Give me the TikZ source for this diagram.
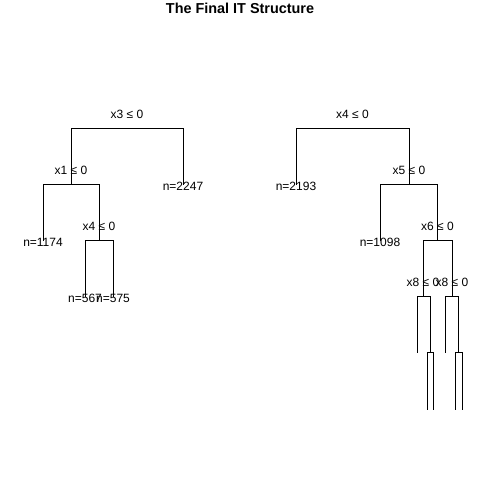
\documentclass[tikz,border=0pt]{standalone}
\usepackage{fontspec}
\setmainfont{Liberation Sans}
\begin{document}
\begin{tikzpicture}[x=1pt,y=-1pt,
  edge/.style={line width=1pt, line cap=rect},
  lab/.style={font=\fontsize{12}{14}\selectfont, anchor=base, inner sep=0pt}]
\useasboundingbox[fill=white] (0,0) rectangle (480,480);
\node[anchor=base, inner sep=0pt, font=\fontsize{14.4}{16}\selectfont\bfseries] (title) at (240,13) {The Final IT Structure};
% left tree
\coordinate (A) at (127,128);
\coordinate (A1) at (71,184);
\coordinate (A2) at (183,184);
\coordinate (A11) at (43,240);
\coordinate (A12) at (99,240);
\coordinate (A121) at (85,296);
\coordinate (A122) at (113,296);
\draw[edge] (A) -| (A1);
\draw[edge] (A) -| (A2);
\draw[edge] (A1) -| (A11);
\draw[edge] (A1) -| (A12);
\draw[edge] (A12) -| (A121);
\draw[edge] (A12) -| (A122);
\node[lab] (lA) at (127,118) {x3 ≤ 0};
\node[lab] (lA1) at (71,174) {x1 ≤ 0};
\node[lab] (lA2) at (183,190) {n=2247};
\node[lab] (lA11) at (43,246) {n=1174};
\node[lab] (lA12) at (99,230) {x4 ≤ 0};
\node[lab] (lA121) at (85,302) {n=567};
\node[lab] (lA122) at (113,302) {n=575};
% right tree
\coordinate (B) at (352.5,128);
\coordinate (B1) at (296,184);
\coordinate (B2) at (409,184);
\coordinate (B21) at (380,240);
\coordinate (B22) at (437.5,240);
\coordinate (B221) at (423,296);
\coordinate (B222) at (452,296);
\coordinate (B2211) at (417,352);
\coordinate (B2212) at (430,352);
\coordinate (B2221) at (445,352);
\coordinate (B2222) at (458.5,352);
\coordinate (B22121) at (427,409);
\coordinate (B22122) at (433,409);
\coordinate (B22221) at (455,409);
\coordinate (B22222) at (462,409);
\draw[edge] (B) -| (B1);
\draw[edge] (B) -| (B2);
\draw[edge] (B2) -| (B21);
\draw[edge] (B2) -| (B22);
\draw[edge] (B22) -| (B221);
\draw[edge] (B22) -| (B222);
\draw[edge] (B221) -| (B2211);
\draw[edge] (B221) -| (B2212);
\draw[edge] (B222) -| (B2221);
\draw[edge] (B222) -| (B2222);
\draw[edge] (B2212) -| (B22121);
\draw[edge] (B2212) -| (B22122);
\draw[edge] (B2222) -| (B22221);
\draw[edge] (B2222) -| (B22222);
\node[lab] (lB) at (352.5,118) {x4 ≤ 0};
\node[lab] (lB1) at (296,190) {n=2193};
\node[lab] (lB2) at (409,174) {x5 ≤ 0};
\node[lab] (lB21) at (380,246) {n=1098};
\node[lab] (lB22) at (437.5,230) {x6 ≤ 0};
\node[lab] (lB221) at (423,286) {x8 ≤ 0};
\node[lab] (lB222) at (452,286) {x8 ≤ 0};
\end{tikzpicture}
\end{document}
